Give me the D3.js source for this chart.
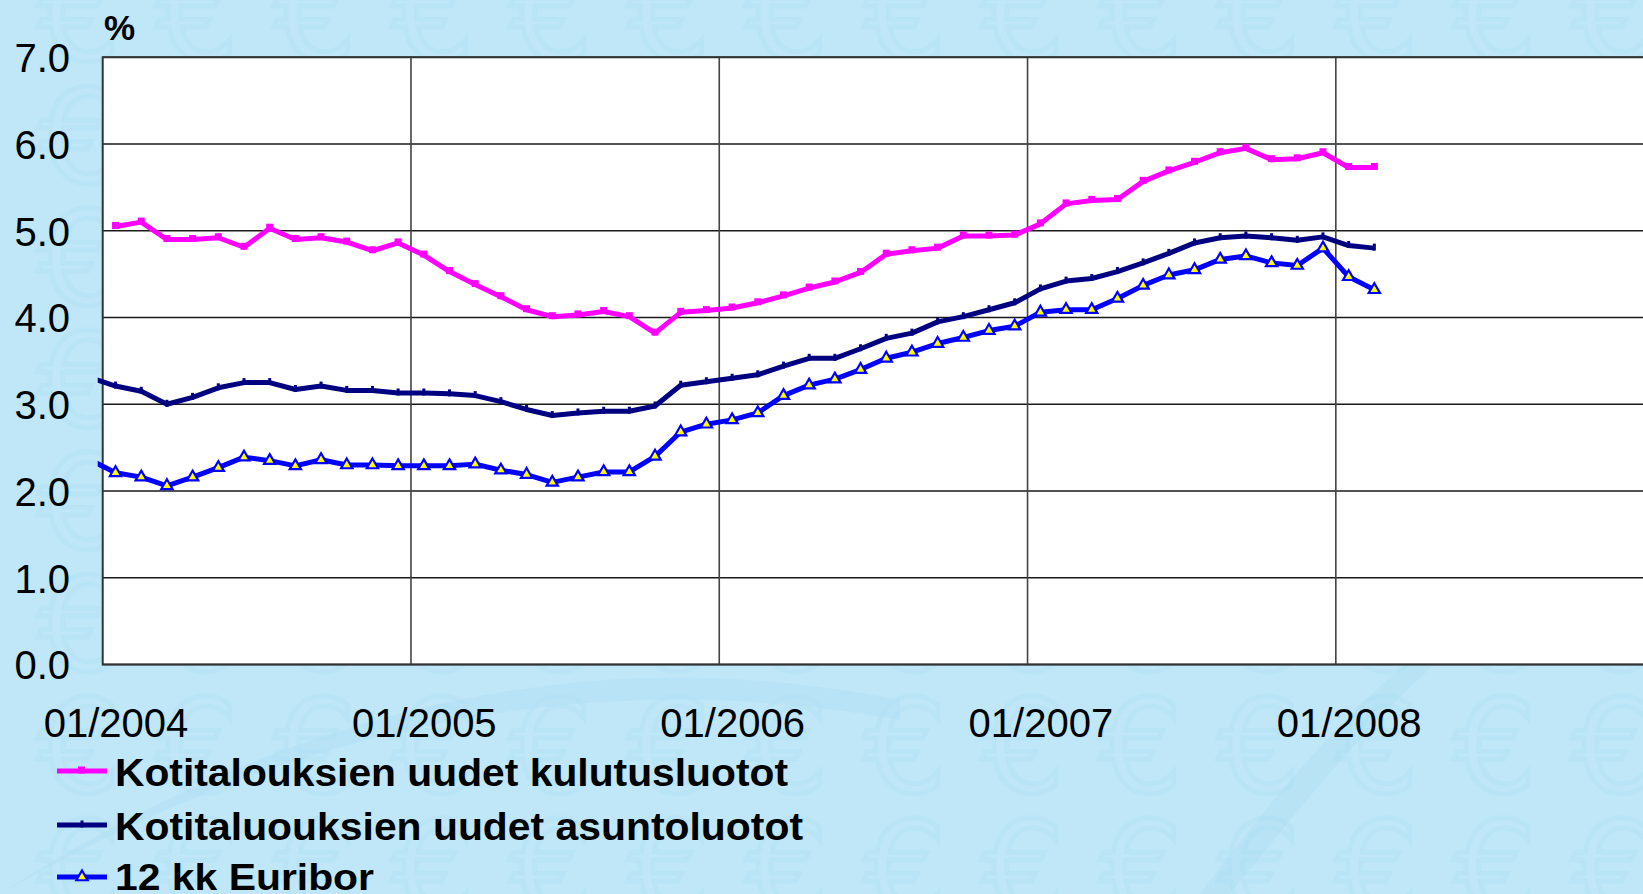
<!DOCTYPE html>
<html><head><meta charset="utf-8">
<script src="https://cdn.jsdelivr.net/npm/d3@7"></script>
<style>html,body{margin:0;padding:0;overflow:hidden;background:#bfe7f8;}svg{display:block;font-family:"Liberation Sans",Arial,sans-serif;}</style>
</head><body>
<script>
// ---- data ----
const months = ["12/2003",
 "01/2004","02/2004","03/2004","04/2004","05/2004","06/2004","07/2004","08/2004","09/2004","10/2004","11/2004","12/2004",
 "01/2005","02/2005","03/2005","04/2005","05/2005","06/2005","07/2005","08/2005","09/2005","10/2005","11/2005","12/2005",
 "01/2006","02/2006","03/2006","04/2006","05/2006","06/2006","07/2006","08/2006","09/2006","10/2006","11/2006","12/2006",
 "01/2007","02/2007","03/2007","04/2007","05/2007","06/2007","07/2007","08/2007","09/2007","10/2007","11/2007","12/2007",
 "01/2008","02/2008"];
const kulutus = [null,
 5.05,5.10,4.90,4.90,4.92,4.81,5.03,4.90,4.92,4.87,4.77,4.86,
 4.72,4.53,4.38,4.24,4.09,4.01,4.03,4.07,4.01,3.82,4.06,4.08,
 4.11,4.17,4.25,4.34,4.41,4.52,4.73,4.77,4.80,4.94,4.94,4.95,
 5.08,5.31,5.35,5.36,5.57,5.69,5.79,5.90,5.95,5.82,5.83,5.90,
 5.73,5.73];
const asunto = [3.31,
 3.21,3.15,3.00,3.08,3.19,3.25,3.25,3.17,3.21,3.16,3.16,3.13,
 3.13,3.12,3.10,3.03,2.94,2.87,2.90,2.92,2.92,2.98,3.22,3.26,
 3.30,3.34,3.44,3.53,3.53,3.64,3.76,3.82,3.95,4.01,4.09,4.17,
 4.33,4.42,4.45,4.53,4.63,4.74,4.86,4.92,4.94,4.92,4.89,4.93,
 4.83,4.80];
const euribor = [2.36,
 2.21,2.16,2.06,2.16,2.27,2.39,2.35,2.29,2.36,2.30,2.30,2.29,
 2.29,2.29,2.31,2.24,2.19,2.10,2.16,2.22,2.22,2.40,2.68,2.77,
 2.82,2.90,3.10,3.22,3.29,3.40,3.53,3.60,3.70,3.77,3.85,3.90,
 4.06,4.09,4.09,4.22,4.37,4.49,4.55,4.67,4.71,4.63,4.60,4.80,
 4.47,4.32];
const seriesNames = ["Kotitalouksien uudet kulutusluotot","Kotitaluouksien uudet asuntoluotot","12 kk Euribor"];
const xTickLabels = ["01/2004","01/2005","01/2006","01/2007","01/2008"];
const yTicks = [0,1,2,3,4,5,6,7];
const yUnit = "%";

// ---- layout ----
const W = 1643, H = 894;
const L = 102.7, T = 57.3, B = 664.5, monthW = 25.69;
const svg = d3.select("body").append("svg").attr("width", W).attr("height", H);
const defs = svg.append("defs");

// background with faint euro pattern
const pat = defs.append("pattern").attr("id","euro").attr("patternUnits","userSpaceOnUse")
  .attr("width",118).attr("height",122).attr("x",20).attr("y",-40);
pat.append("text").attr("x",59).attr("y",100).attr("text-anchor","middle")
  .attr("font-size",130).attr("font-family","DejaVu Sans")
  .attr("fill","none").attr("stroke","#a6d9ee").attr("stroke-width",5).attr("opacity",0.22).text("€");
svg.append("rect").attr("width",W).attr("height",H).attr("fill","#bfe7f8");
svg.append("rect").attr("width",W).attr("height",H).attr("fill","url(#euro)");
// soft diagonal swooshes
svg.append("path").attr("d","M0,894 C300,700 600,640 900,700 L900,720 C600,665 300,720 0,894 Z").attr("fill","#a8dcf2").attr("opacity",0.3);
svg.append("path").attr("d","M1200,894 C1300,760 1400,650 1500,600 L1520,600 C1420,660 1330,770 1230,894 Z").attr("fill","#a8dcf2").attr("opacity",0.35);

// scales
const x = d3.scaleLinear().domain([0, 60]).range([L, L + 60*monthW]);
const y = d3.scaleLinear().domain([0, 7]).range([B, T]);
const xi = i => x(i - 0.5); // index 0 = 12/2003, centred in month

// plot area
svg.append("rect").attr("x",L).attr("y",T).attr("width",W - L + 5).attr("height",B - T).attr("fill","#fff");

// grid
const grid = svg.append("g");
grid.selectAll("line.h").data(yTicks).join("line")
  .attr("x1",L).attr("x2",W + 5).attr("y1",d=>y(d)).attr("y2",d=>y(d))
  .attr("stroke","#1a1a1a").attr("stroke-width",1.6);
grid.selectAll("line.v").data([12,24,36,48]).join("line")
  .attr("x1",d=>x(d)).attr("x2",d=>x(d)).attr("y1",T).attr("y2",B)
  .attr("stroke","#444").attr("stroke-width",1.6);
// border
svg.append("path").attr("d",`M${W+5},${T} H${L} V${B} H${W+5}`).attr("fill","none").attr("stroke","#333").attr("stroke-width",2);

// y axis labels
const yAxis = d3.axisLeft(y).tickValues(yTicks).tickFormat(d3.format(".1f")).tickSize(0).tickPadding(0);
const ya = svg.append("g").attr("transform",`translate(70,0)`).call(yAxis);
ya.select(".domain").remove();
ya.selectAll("text").attr("font-size",40).attr("fill","#000").attr("font-family","Liberation Sans, Arial, sans-serif").attr("dy","0.36em");
svg.append("text").attr("x",104).attr("y",40).attr("font-size",35).attr("font-weight","bold").text(yUnit);

// x axis labels
const xAxis = d3.axisBottom(x).tickValues([0.5,12.5,24.5,36.5,48.5]).tickFormat((d,i)=>xTickLabels[i]).tickSize(0).tickPadding(0);
const xa = svg.append("g").attr("transform",`translate(0,709)`).call(xAxis);
xa.select(".domain").remove();
xa.selectAll("text").attr("font-size",40).attr("fill","#000").attr("font-family","Liberation Sans, Arial, sans-serif").attr("dy","0.71em");

// clip for lines
defs.append("clipPath").attr("id","clip").append("rect").attr("x",L-5).attr("y",0).attr("width",W).attr("height",H);

const plot = svg.append("g").attr("clip-path","url(#clip)");
const series = [
  {vals:kulutus, color:"#ff00ff"},
  {vals:asunto, color:"#000080"},
  {vals:euribor, color:"#0000ff"}
];
series.forEach(s=>{
  plot.append("path").datum(s.vals).attr("d", d3.line().defined(d=>d!=null).x((d,i)=>xi(i)).y(d=>y(d)))
    .attr("fill","none").attr("stroke",s.color).attr("stroke-width",5).attr("stroke-linejoin","round");
});
const pts = (vals) => vals.map((v,i)=>({v,i})).filter(d=>d.v!=null && d.i>0);
// markers kulutus: small squares
plot.selectAll("rect.mk").data(pts(kulutus)).join("rect")
  .attr("x",d=>xi(d.i)-3.5).attr("y",d=>y(d.v)-4.5).attr("width",7).attr("height",7).attr("fill","#ff00ff");
// markers asunto: small dashes
plot.selectAll("rect.ma").data(pts(asunto)).join("rect")
  .attr("x",d=>xi(d.i)-1.5).attr("y",d=>y(d.v)-4.5).attr("width",3).attr("height",7).attr("fill","#000080");
// markers euribor: triangles
const tri = d3.symbol().type(d3.symbolTriangle).size(55);
plot.selectAll("path.me").data(pts(euribor)).join("path")
  .attr("d",tri).attr("transform",d=>`translate(${xi(d.i)},${y(d.v)})`)
  .attr("fill","#ffff00").attr("stroke","#0000ff").attr("stroke-width",2.2);

// legend
const legY = [771, 825, 877];
const legLen = [673, 688, 259];
const lg = svg.append("g");
seriesNames.forEach((name,k)=>{
  const c = series[k].color;
  lg.append("line").attr("x1",57).attr("x2",107).attr("y1",legY[k]).attr("y2",legY[k]).attr("stroke",c).attr("stroke-width",5);
  if(k===0) lg.append("rect").attr("x",78).attr("y",legY[k]-4.5).attr("width",7).attr("height",7).attr("fill",c);
  if(k===1) lg.append("rect").attr("x",80.5).attr("y",legY[k]-4.5).attr("width",3).attr("height",7).attr("fill",c);
  if(k===2) lg.append("path").attr("d",tri).attr("transform",`translate(82,${legY[k]})`).attr("fill","#ffff00").attr("stroke",c).attr("stroke-width",2.2);
  lg.append("text").attr("x",115).attr("y",legY[k] + (k===2 ? 13 : 15)).attr("font-size",k===2 ? 37 : 38).attr("font-weight","bold")
    .attr("textLength",legLen[k]).attr("lengthAdjust","spacingAndGlyphs").attr("fill","#000").text(name);
});
</script>
</body></html>
